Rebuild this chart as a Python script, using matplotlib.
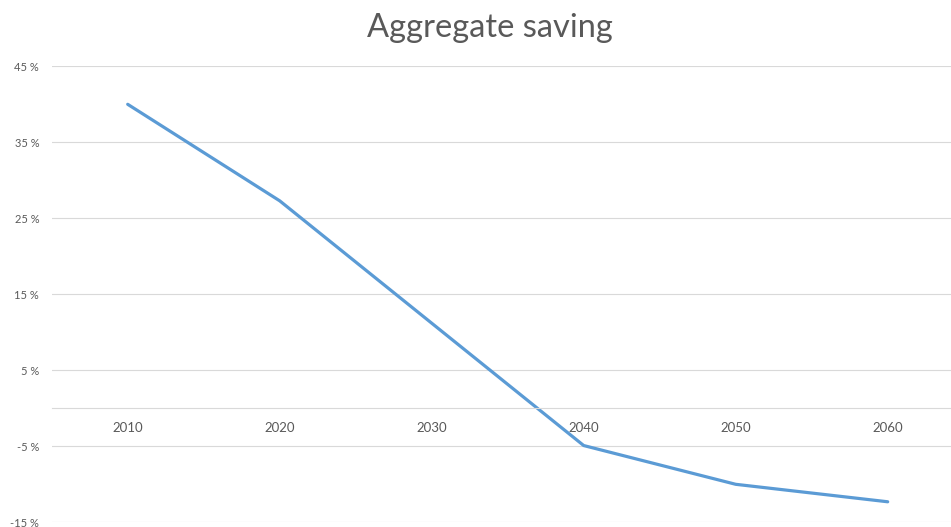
import matplotlib.pyplot as plt

years = ['2010', '2020', '2030', '2040', '2050', '2060']
saving = [40.0, 27.3, 11.2, -4.9, -10.0, -12.3]

y_ticks = [-15, -5, 5, 15, 25, 35, 45]
y_labels = [f"{t} %" for t in y_ticks]

plt.rcParams['font.family'] = ['Lato', 'DejaVu Sans']
grey = '#595959'
grid = '#D9D9D9'

fig = plt.figure(figsize=(9.51, 5.27), dpi=100)
ax = fig.add_axes([51.7 / 951, 4.7 / 527, 912 / 951, 456 / 527])

x = list(range(len(years)))
ax.plot(x, saving, color='#5B9BD5', linewidth=2.3, solid_capstyle='round')

ax.set_xlim(-0.5, len(years) - 0.5)
ax.set_ylim(-15, 45)
ax.set_yticks(y_ticks)
ax.set_yticklabels(y_labels, fontsize=8, color=grey)
ax.yaxis.grid(True, color=grid, linewidth=0.8)
ax.set_axisbelow(True)

# category axis sits on the zero line
ax.spines['bottom'].set_position(('data', 0))
ax.spines['bottom'].set_color(grid)
ax.spines['bottom'].set_linewidth(0.8)
for s in ['left', 'right', 'top']:
    ax.spines[s].set_visible(False)
ax.set_xticks(x)
ax.set_xticklabels(years, fontsize=9.5, color=grey)
ax.tick_params(axis='x', length=0, pad=10)
ax.tick_params(axis='y', length=0, pad=9)

fig.text(490 / 951, (527 - 37) / 527, 'Aggregate saving', ha='center', va='baseline',
         fontsize=23.5, color=grey)

fig.savefig('out.png', dpi=100)
